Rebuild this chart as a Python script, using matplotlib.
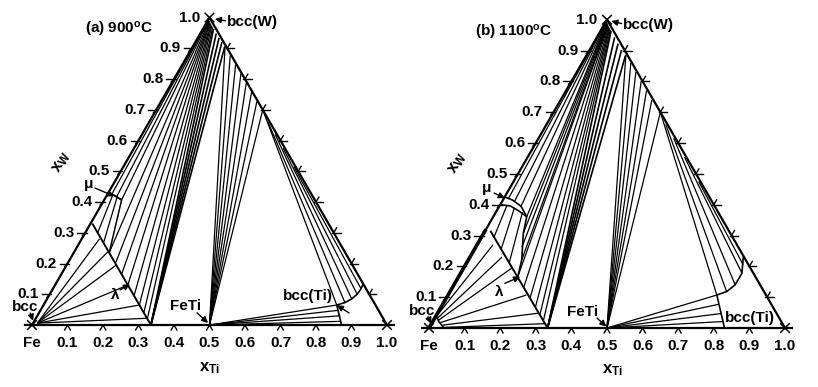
import numpy as np
import matplotlib.pyplot as plt

plt.rcParams['font.family'] = ['Liberation Sans', 'DejaVu Sans']
plt.rcParams['mathtext.fontset'] = 'custom'
plt.rcParams['mathtext.rm'] = 'Liberation Sans'
plt.rcParams['mathtext.it'] = 'Liberation Sans'
plt.rcParams['mathtext.bf'] = 'Liberation Sans:bold'

H = np.sqrt(3) / 2

# compositions are (x_Ti, x_W)
tick_vals = [0.1, 0.2, 0.3, 0.4, 0.5, 0.6, 0.7, 0.8, 0.9]
tick_text = ['0.1', '0.2', '0.3', '0.4', '0.5', '0.6', '0.7', '0.8', '0.9']

# ---- (a) 900 C ----
a_lambda = [(0.335, 0.0), (0.005, 0.33)]
a_mu = [(0.004, 0.43), (0.049, 0.407)]
a_mu_lambda = [(0.049, 0.407), (0.10, 0.235)]
a_fe_ties = [((0.012, 0.006), (0.05, 0.28)), ((0.012, 0.006), (0.095, 0.239)),
             ((0.012, 0.006), (0.14, 0.195)), ((0.012, 0.006), (0.205, 0.13)),
             ((0.012, 0.006), (0.27, 0.065)), ((0.012, 0.006), (0.313, 0.022))]
a_mu_ties = [((0.016, 0.424), (0.035, 0.30)), ((0.032, 0.415), (0.068, 0.267))]
a_w_ties = [((0.0, 0.995), (0.012, 0.426)), ((0.0, 0.995), (0.03, 0.416)),
            ((0.002, 0.993), (0.049, 0.407)), ((0.004, 0.99), (0.10, 0.235)),
            ((0.006, 0.988), (0.135, 0.20)), ((0.008, 0.985), (0.17, 0.165)),
            ((0.01, 0.983), (0.205, 0.13)), ((0.013, 0.98), (0.24, 0.095)),
            ((0.016, 0.977), (0.27, 0.065)), ((0.02, 0.973), (0.295, 0.04)),
            ((0.025, 0.968), (0.315, 0.02))]
a_fe2ti_ties = [((0.335, 0.0), (0.03, 0.963)), ((0.335, 0.0), (0.045, 0.948)),
                ((0.335, 0.0), (0.06, 0.934)), ((0.335, 0.0), (0.075, 0.92)),
                ((0.335, 0.0), (0.09, 0.906))]
a_feti_ties = [((0.5, 0.0), (0.09, 0.908)), ((0.5, 0.0), (0.12, 0.877)),
               ((0.5, 0.0), (0.15, 0.847)), ((0.5, 0.0), (0.18, 0.817)),
               ((0.5, 0.0), (0.21, 0.787)), ((0.5, 0.0), (0.24, 0.757)),
               ((0.5, 0.0), (0.27, 0.727)), ((0.5, 0.0), (0.30, 0.70))]
a_gap_ties = [((0.30, 0.70), (0.826, 0.065)), ((0.335, 0.66), (0.845, 0.073)),
              ((0.375, 0.62), (0.858, 0.085)), ((0.42, 0.575), (0.866, 0.10)),
              ((0.48, 0.515), (0.868, 0.118))]
a_ti_ties = [((0.5, 0.0), (0.826, 0.065)), ((0.5, 0.0), (0.84, 0.048)),
             ((0.5, 0.0), (0.853, 0.03)), ((0.5, 0.0), (0.864, 0.012))]
a_bccti = [(0.872, 0.0), (0.826, 0.065), (0.845, 0.073), (0.858, 0.085),
           (0.866, 0.10), (0.868, 0.118), (0.866, 0.134)]

# ---- (b) 1100 C ----
b_lambda = [(0.333, 0.0), (0.015, 0.315)]
b_mu_upper = [(0.0, 0.425), (0.027, 0.415), (0.061, 0.395), (0.094, 0.361)]
b_mu_lower = [(0.0, 0.40), (0.03, 0.396), (0.06, 0.381), (0.094, 0.361)]
b_mu_lambda = [(0.094, 0.361), (0.111, 0.308), (0.15, 0.221), (0.166, 0.167)]
b_bccfe = [(0.0, 0.04), (0.018, 0.02), (0.042, 0.0)]
b_fe_edge = [(0.0, 0.0), (0.0, 0.32)]
b_fe_ties = [((0.002, 0.038), (0.045, 0.27)), ((0.008, 0.032), (0.09, 0.23)),
             ((0.014, 0.025), (0.135, 0.194)), ((0.022, 0.017), (0.22, 0.107)),
             ((0.032, 0.009), (0.283, 0.048)), ((0.04, 0.002), (0.318, 0.014))]
b_mu_ties = [((0.02, 0.398), (0.035, 0.296)), ((0.045, 0.39), (0.075, 0.255)),
             ((0.075, 0.375), (0.12, 0.21))]
b_w_ties = [((0.0, 0.995), (0.013, 0.42)), ((0.0, 0.995), (0.035, 0.41)),
            ((0.002, 0.993), (0.061, 0.395)), ((0.003, 0.992), (0.094, 0.361)),
            ((0.005, 0.99), (0.111, 0.308)), ((0.007, 0.988), (0.13, 0.262)),
            ((0.009, 0.985), (0.15, 0.221)), ((0.011, 0.983), (0.166, 0.167)),
            ((0.013, 0.98), (0.20, 0.133)), ((0.016, 0.977), (0.235, 0.098)),
            ((0.019, 0.974), (0.265, 0.068)), ((0.022, 0.971), (0.29, 0.043)),
            ((0.026, 0.967), (0.31, 0.022))]
b_fe2ti_ties = [((0.333, 0.0), (0.03, 0.963)), ((0.333, 0.0), (0.05, 0.943)),
                ((0.333, 0.0), (0.07, 0.922)), ((0.333, 0.0), (0.09, 0.902)),
                ((0.333, 0.0), (0.11, 0.884))]
b_feti_ties = [((0.5, 0.0), (0.11, 0.886)), ((0.5, 0.0), (0.137, 0.86)),
               ((0.5, 0.0), (0.166, 0.83)), ((0.5, 0.0), (0.196, 0.80)),
               ((0.5, 0.0), (0.226, 0.77)), ((0.5, 0.0), (0.256, 0.74)),
               ((0.5, 0.0), (0.30, 0.70))]
b_gap_ties = [((0.30, 0.70), (0.755, 0.107)), ((0.335, 0.66), (0.777, 0.118)),
              ((0.38, 0.615), (0.79, 0.14)), ((0.44, 0.555), (0.79, 0.178)),
              ((0.52, 0.475), (0.78, 0.205))]
b_ti_ties = [((0.5, 0.0), (0.755, 0.107)), ((0.5, 0.0), (0.776, 0.077)),
             ((0.5, 0.0), (0.797, 0.047)), ((0.5, 0.0), (0.815, 0.021))]
b_bccti = [(0.83, 0.0), (0.755, 0.107), (0.777, 0.118), (0.79, 0.14),
           (0.79, 0.178), (0.767, 0.232)]

FS = 11


def xy(pts):
    p = np.array(pts, dtype=float)
    return p[:, 0] + 0.5 * p[:, 1], H * p[:, 1]


def line(ax, pts, lw=0.9):
    x, y = xy(pts)
    ax.plot(x, y, color='k', lw=lw, solid_capstyle='butt')


def frame(ax):
    ax.plot([-0.02, 1.02], [0, 0], color='k', lw=1.6)
    ax.plot([0, 0.5, 1], [0, H, 0], color='k', lw=1.6)
    d = 0.012
    for cx, cy in [(0, 0), (1, 0), (0.5, H)]:
        ax.plot([cx - d, cx + d], [cy - d, cy + d], color='k', lw=1.1)
        ax.plot([cx - d, cx + d], [cy + d, cy - d], color='k', lw=1.1)
    t = 0.016
    for v, s in zip(tick_vals, tick_text):
        # base
        bx, by = v, 0.0
        ax.plot([bx - 0.5 * t, bx, bx + 0.5 * t], [by - H * t, by, by - H * t], color='k', lw=1)
        ax.text(bx, -0.051, s, ha='center', va='center', fontsize=FS, fontweight='bold')
        # left edge
        lx, ly = 0.5 * v, H * v
        ax.plot([lx - 1.4 * t, lx + 0.3 * t], [ly, ly], color='k', lw=1)
        ax.plot([lx - 0.5 * t, lx], [ly - H * t * 0.6, ly], color='k', lw=1)
        ax.text(lx - 0.03, ly, s, ha='right', va='center', fontsize=FS, fontweight='bold')
        # right edge
        rx, ry = 1 - 0.5 * v, H * v
        ax.plot([rx - 0.3 * t, rx + 1.2 * t], [ry, ry], color='k', lw=1)
        ax.plot([rx, rx + 0.5 * t], [ry, ry + H * t], color='k', lw=1)
    ax.text(0.0, -0.051, 'Fe', ha='center', va='center', fontsize=FS, fontweight='bold')
    ax.text(1.0, -0.051, '1.0', ha='center', va='center', fontsize=FS, fontweight='bold')
    ax.text(0.5 - 0.026, H, '1.0', ha='right', va='center', fontsize=FS, fontweight='bold')


def arrow(ax, x0, y0, x1, y1):
    ax.annotate('', xy=(x1, y1), xytext=(x0, y0),
                arrowprops=dict(arrowstyle='-|>', color='k', lw=1, mutation_scale=9,
                                shrinkA=0, shrinkB=0))


fig = plt.figure(figsize=(8.18, 3.87), dpi=100)
ax_a = fig.add_axes([0, 0, 409 / 818, 1])
ax_b = fig.add_axes([409 / 818, 0, 409 / 818, 1])
ax_a.set_xlim(-0.0901, 1.0620)
ax_a.set_ylim(-0.1746, 0.9155)
ax_b.set_xlim(-0.0562, 1.0927)
ax_b.set_ylim(-0.1657, 0.9213)

# panel a
for ties in [a_fe_ties, a_mu_ties, a_w_ties, a_feti_ties, a_gap_ties, a_ti_ties]:
    for p, q in ties:
        line(ax_a, [p, q])
for p, q in a_fe2ti_ties:
    line(ax_a, [p, q], lw=1.2)
line(ax_a, a_lambda, 1.4)
line(ax_a, a_mu, 1.4)
line(ax_a, a_mu_lambda, 1.1)
line(ax_a, a_bccti, 1.2)
frame(ax_a)

# panel b
for ties in [b_fe_ties, b_mu_ties, b_w_ties, b_feti_ties, b_gap_ties, b_ti_ties]:
    for p, q in ties:
        line(ax_b, [p, q])
for p, q in b_fe2ti_ties:
    line(ax_b, [p, q], lw=1.2)
line(ax_b, b_lambda, 1.4)
line(ax_b, b_mu_upper, 1.2)
line(ax_b, b_mu_lower, 1.2)
line(ax_b, b_mu_lambda, 1.2)
line(ax_b, b_bccfe, 1.2)
line(ax_b, b_bccti, 1.2)
line(ax_b, b_fe_edge, 2.6)
frame(ax_b)

lab = dict(fontsize=FS, fontweight='bold')

ax_a.text(0.149, 0.831, '(a) 900$^\\mathbf{o}$C', ha='left', va='center', **lab)
ax_a.text(0.549, 0.854, 'bcc(W)', ha='left', va='center', **lab)
arrow(ax_a, 0.545, 0.857, 0.515, 0.862)
ax_a.text(0.16, 0.397, '\u03bc', ha='center', va='center', **lab)
arrow(ax_a, 0.177, 0.386, 0.231, 0.363)
ax_a.text(0.234, 0.0845, '\u03bb', ha='center', va='center', **lab)
arrow(ax_a, 0.248, 0.099, 0.276, 0.115)
ax_a.text(-0.02, 0.05, 'bcc', ha='center', va='center', **lab)
arrow(ax_a, -0.005, 0.034, 0.003, 0.012)
ax_a.text(0.434, 0.054, 'FeTi', ha='center', va='center', **lab)
arrow(ax_a, 0.465, 0.034, 0.496, 0.006)
ax_a.text(0.776, 0.082, 'bcc(Ti)', ha='center', va='center', **lab)
arrow(ax_a, 0.893, 0.034, 0.859, 0.056)
ax_a.text(0.0845, 0.459, 'x$_\\mathbf{W}$', rotation=60, ha='center', va='center',
          fontsize=12, fontweight='bold')
ax_a.text(0.501, -0.121, 'x$_\\mathbf{Ti}$', ha='center', va='center', fontsize=12,
          fontweight='bold')

ax_b.text(0.129, 0.831, '(b) 1100$^\\mathbf{o}$C', ha='left', va='center', **lab)
ax_b.text(0.545, 0.851, 'bcc(W)', ha='left', va='center', **lab)
arrow(ax_b, 0.541, 0.855, 0.512, 0.862)
ax_b.text(0.163, 0.393, '\u03bc', ha='center', va='center', **lab)
arrow(ax_b, 0.183, 0.379, 0.213, 0.365)
ax_b.text(0.197, 0.101, '\u03bb', ha='center', va='center', **lab)
arrow(ax_b, 0.213, 0.1255, 0.256, 0.144)
ax_b.text(-0.02, 0.048, 'bcc', ha='center', va='center', **lab)
arrow(ax_b, -0.003, 0.032, 0.006, 0.012)
ax_b.text(0.43, 0.045, 'FeTi', ha='center', va='center', **lab)
arrow(ax_b, 0.472, 0.028, 0.498, 0.004)
ax_b.text(0.902, 0.028, 'bcc(Ti)', ha='center', va='center', **lab)
ax_b.text(0.081, 0.463, 'x$_\\mathbf{W}$', rotation=60, ha='center', va='center',
          fontsize=12, fontweight='bold')
ax_b.text(0.514, -0.118, 'x$_\\mathbf{Ti}$', ha='center', va='center', fontsize=12,
          fontweight='bold')

for ax in (ax_a, ax_b):
    ax.set_axis_off()

fig.savefig('out.png', dpi=100)
